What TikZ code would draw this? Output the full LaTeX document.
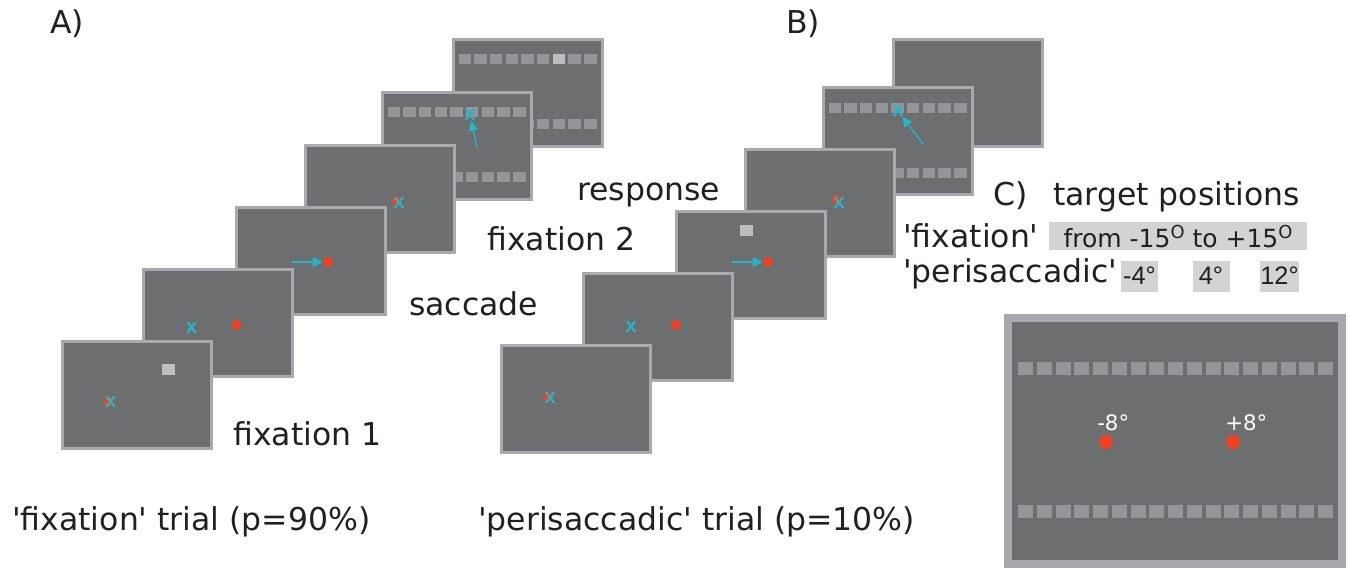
\documentclass[tikz,border=0pt]{standalone}
\usepackage{fontspec}
\setmainfont{DejaVu Sans}
\newfontfamily\narrowfont{Liberation Sans}
\usepackage{tikz}
\usetikzlibrary{arrows.meta}

\definecolor{scrfill}{HTML}{6D6E70}
\definecolor{scredge}{HTML}{A7A9AC}
\definecolor{slotgray}{HTML}{939598}
\definecolor{cuegray}{HTML}{BCBEC0}
\definecolor{dotred}{HTML}{EF4123}
\definecolor{fixcyan}{HTML}{27B4C4}
\definecolor{txt}{HTML}{231F20}
\definecolor{boxgray}{HTML}{D1D3D4}

\newcommand{\sq}{\textquotesingle}
\newcommand{\supO}{\raisebox{6.75pt}{\fontsize{13.4}{14}\selectfont O}}

\begin{document}
\begin{tikzpicture}[x=0.75pt,y=-0.75pt,
    screen/.style={rectangle,draw=scredge,fill=scrfill,line width=2.25pt,minimum width=111.75pt,minimum height=80.25pt,inner sep=0pt},
    bigscreen/.style={screen,line width=6pt,minimum width=250.5pt,minimum height=184.5pt},
    dot/.style={circle,fill=dotred,inner sep=0pt,minimum size=7.5pt},
    bigdot/.style={dot,minimum size=10.5pt},
    cross/.style={text=fixcyan,font=\narrowfont\bfseries\fontsize{15.5}{15.5}\selectfont,inner sep=0pt},
    cue/.style={rectangle,fill=cuegray,inner sep=0pt,minimum width=9.75pt,minimum height=8.25pt},
    slot/.style={fill=slotgray},
    lbl/.style={text=txt,font=\fontsize{23.6}{28}\selectfont,inner sep=0pt,anchor=base west},
    posbox/.style={fill=boxgray,text=txt,inner sep=0pt},
    smallbox/.style={posbox,font=\narrowfont\fontsize{19}{20}\selectfont,minimum width=27.75pt,text height=17.75pt,text depth=5.5pt},
    degl/.style={text=white,font=\fontsize{16}{17}\selectfont,inner sep=0pt,anchor=base west},
    saccarrow/.style={-{Triangle[length=7.5pt,width=7pt]},draw=fixcyan,fill=fixcyan,line width=1pt}]
  \path[use as bounding box,fill=white] (0,0) rectangle (1348,568);

  % A) fixation trial, back to front
  \node[screen] (a6) at (528,93) {};
  \foreach \i in {0,...,8} {
    \fill[slot] ({458.5+15.7*\i},54) rectangle ++(12.4,10);
    \fill[slot] ({458.5+15.7*\i},119) rectangle ++(12.4,10);
  }
  \fill[cuegray] (552.7,54) rectangle ++(12.4,10);

  \node[screen] (a5) at (457,146) {};
  \foreach \i in {0,...,8} {
    \fill[slot] ({387.5+15.7*\i},107) rectangle ++(12.4,10);
    \fill[slot] ({387.5+15.7*\i},172) rectangle ++(12.4,10);
  }
  \node[cross] (a5x) at (470,115) {x};
  \coordinate (a5s) at (477,148);
  \draw[saccarrow] (a5s) -- (a5x);

  \node[screen] (a4) at (380,198.5) {};
  \node[dot] (a4d) at (397,201) {};
  \node[cross] (a4x) at (399,203) {x};

  \node[screen] (a3) at (310.5,261) {};
  \node[dot] (a3d) at (328,262) {};
  \coordinate (a3s) at (292,262);
  \draw[saccarrow] (a3s) -- (a3d);

  \node[screen] (a2) at (218,323) {};
  \node[cross] (a2x) at (191.5,328) {x};
  \node[dot] (a2d) at (236.5,325) {};

  \node[screen] (a1) at (136.5,394.5) {};
  \node[cue] (a1c) at (168.5,369.5) {};
  \node[dot] (a1d) at (108.5,401.5) {};
  \node[cross] (a1x) at (110.5,402.5) {x};

  % B) perisaccadic trial
  \node[screen] (b6) at (967.5,93) {};

  \node[screen] (b5) at (897.5,141) {};
  \foreach \i in {0,...,8} {
    \fill[slot] ({828.5+15.7*\i},103) rectangle ++(12.4,10);
    \fill[slot] ({828.5+15.7*\i},168) rectangle ++(12.4,10);
  }
  \node[cross] (b5x) at (898,111) {x};
  \coordinate (b5s) at (923,144);
  \draw[saccarrow] (b5s) -- (b5x);

  \node[screen] (b4) at (819.5,202.5) {};
  \node[dot] (b4d) at (837,200) {};
  \node[cross] (b4x) at (839,203) {x};

  \node[screen] (b3) at (750.5,264.5) {};
  \node[cue] (b3c) at (746.5,230.5) {};
  \node[dot] (b3d) at (768,262) {};
  \coordinate (b3s) at (732,262);
  \draw[saccarrow] (b3s) -- (b3d);

  \node[screen] (b2) at (657.5,326.5) {};
  \node[cross] (b2x) at (631,327) {x};
  \node[dot] (b2d) at (676,325) {};

  \node[screen] (b1) at (575.5,399) {};
  \node[dot] (b1d) at (548,397) {};
  \node[cross] (b1x) at (550,398) {x};

  % labels
  \node[lbl] (labA) at (50,33) {A)};
  \node[lbl] (labB) at (786,33) {B)};
  \node[lbl] (fix1) at (233,445) {fixation 1};
  \node[lbl] (sacc) at (409,315) {saccade};
  \node[lbl] (fix2) at (487,250) {fixation 2};
  \node[lbl] (resp) at (577,200) {response};
  \node[lbl] (trialA) at (12,530) {\sq fixation\sq{} trial (p=90\%)};
  \node[lbl] (trialB) at (478,530) {\sq perisaccadic\sq{} trial (p=10\%)};

  % C) target positions
  \node[lbl] (labC) at (993,205) {C)};
  \node[lbl] (tpos) at (1053,205) {target positions};
  \node[lbl] (rowfix) at (903,247) {\sq fixation\sq};
  \node[lbl] (rowper) at (903,282) {\sq perisaccadic\sq};
  \node[posbox,font=\fontsize{18.75}{20}\selectfont,minimum width=193.5pt,text height=18.75pt,text depth=2.25pt] (range) at (1178,236) {from -15\supO{} to +15\supO};
  \node[smallbox] (p1) at (1139.5,276) {-4°};
  \node[smallbox] (p2) at (1211,276) {4°};
  \node[smallbox] (p3) at (1279.5,276) {12°};

  \node[bigscreen] (cscr) at (1175,441) {};
  \foreach \i in {0,...,16} {
    \fill[slot] ({1018+18.75*\i},362) rectangle ++(15,13);
    \fill[slot] ({1018+18.75*\i},505) rectangle ++(15,13);
  }
  \node[bigdot] (dl) at (1106,442) {};
  \node[bigdot] (dr) at (1233,442) {};
  \node[degl] (tl) at (1097,430) {-8°};
  \node[degl] (tr) at (1225,430) {+8°};
\end{tikzpicture}
\end{document}
